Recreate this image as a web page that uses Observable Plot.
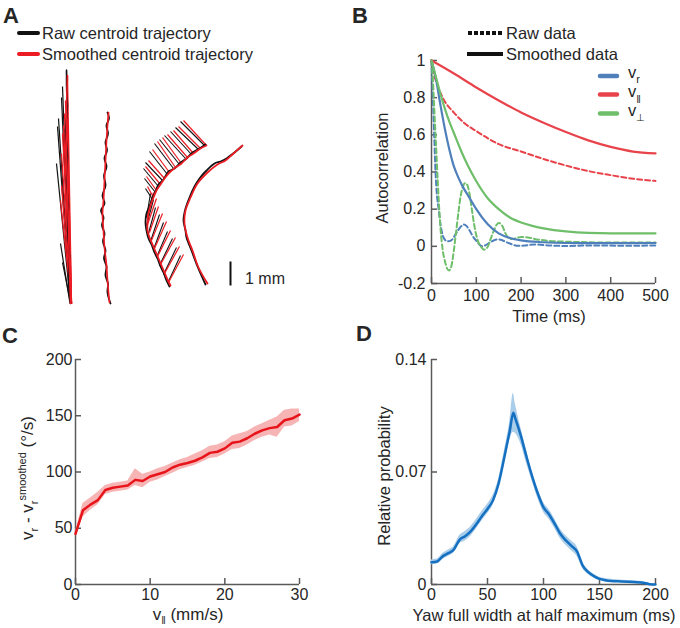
<!DOCTYPE html>
<html><head><meta charset="utf-8">
<script src="https://cdn.jsdelivr.net/npm/d3@7"></script>
<script src="https://cdn.jsdelivr.net/npm/@observablehq/plot@0.6"></script>
<style>
body{margin:0;background:#fff;}
#fig{position:relative;width:680px;height:628px;overflow:hidden;font-family:"Liberation Sans",Arial,Helvetica,sans-serif;}
.panel{position:absolute;}
.panel svg{overflow:visible;}
#overlay{position:absolute;left:0;top:0;pointer-events:none;}
</style></head><body><div id="fig"></div>
<script>
// ---------------- Panel A data (tracking camera pixels; 24 px = 1 mm) ----------------
const traj1Raw = [[70,303],[68,280],[69,255],[67,230],[68,205],[66,180],[67,155],[65,130],[67,105],[66,85],[66,70]];
const traj1Smooth = [[70,303],[69,270],[68,230],[67,190],[66,150],[66,110],[67,75]];
const fan1Raw = [[70,303,66,69],[70,303,62,86],[70,303,61,97],[70,303,58,118],[70,303,57,126],[70,303,56,163],[69,300,60,243],[70,302,62,262],[70,303,64,150]];
const fan1Smooth = [[71,303,67,76],[71,303,65,100],[71,303,64,113],[71,303,62,133],[71,303,61,153],[71,303,61,185],[71,303,66,88],[71,303,63,125],[71,303,60,200]];
const traj2Raw = [[107,112],[108.5,118],[106,125],[107.5,133],[105,142],[106.5,150],[104,158],[106,166],[103.5,175],[105,185],[102,195],[104,203],[100.5,210],[103,217],[101.5,225],[104,233],[102.5,241],[105,250],[103.5,258],[106,266],[105,275],[107.5,283],[107,292],[110,303]];
const traj2Smooth = [[108,112],[107,125],[106,140],[105,160],[104,180],[103,200],[102,213],[103,230],[104,247],[106,265],[107,280],[108,292],[109,302]];
const traj3Raw = [[205,144],[199,148],[192,152],[186,158],[180,162],[174,168],[168,171],[163,179],[158,184],[155,191],[152,197],[149,206],[146,213],[145,222],[146,230],[148,238],[151,244],[154,252],[157,258],[160,266],[163,272],[166,280],[169,286]];
const traj3Smooth = [[206,145],[200,148],[193,153],[187,157],[181,163],[175,167],[169,172],[164,178],[160,184],[156,190],[153,197],[150,205],[148,213],[147,222],[147,230],[149,237],[152,244],[155,251],[158,258],[161,265],[164,272],[167,279],[170,285]];
const hairs3Raw = [[204,145,180,121],[198,149,175,127],[191,154,170,131],[185,158,164,135],[179,164,159,139],[173,168,154,143],[167,174,149,151],[162,180,145,162],[158,186,143,168],[155,192,144,178],[152,199,145,188],
  [167,283,180,255],[163,274,176,247],[159,265,172,238],[156,257,167,231],[153,249,163,222],[150,241,159,214],[148,233,155,207],[146,225,153,199],[146,217,150,193]];
const hairs3Smooth = [[206,145,183,120],[200,148,178,126],[193,153,173,130],[187,157,167,134],[181,163,162,137],[175,167,157,141],[169,172,152,149],[164,178,148,160],[160,184,145,166],[156,190,146,176],[153,197,147,186],
  [168,282,183,254],[164,273,179,246],[160,264,175,237],[157,256,170,230],[154,248,166,221],[151,240,162,213],[149,232,158,206],[147,224,156,198],[147,216,153,192]];
const traj4Raw = [[241,146],[234,152],[226,158],[220,161],[214,163],[206,170],[199,178],[194,186],[189,197],[185,208],[183,220],[185,230],[186,237],[191,250],[197,266],[205,284]];
const traj4Smooth = [[242,145],[233,153],[225,160],[217,164],[207,172],[197,183],[190,197],[185,210],[184,223],[187,237],[192,250],[198,267],[207,283]];
const scaleBar = [[230,261,230,285]]; // 24 camera px = 1 mm

// ---------------- Panel B data (time ms, autocorrelation) ----------------
const xTicksB = [0,100,200,300,400,500];
const yTicksB = [-0.2,0,0.2,0.4,0.6,0.8,1];
const tVrSmooth = [0,10,20,30,40,50,60,70,80,90,100,125,150,175,200,250,300,400,500];
const vrSmooth  = [1,0.9,0.76,0.63,0.52,0.43,0.37,0.32,0.28,0.24,0.2,0.12,0.07,0.045,0.032,0.022,0.018,0.017,0.018];
const tVperpSmooth = [0,10,20,30,40,50,65,80,100,125,150,175,200,225,250,300,350,400,500];
const vperpSmooth  = [1,0.91,0.82,0.74,0.67,0.61,0.52,0.44,0.35,0.26,0.2,0.155,0.128,0.11,0.097,0.08,0.072,0.07,0.07];
const tVparSmooth = [0,50,100,150,200,250,300,350,400,450,500];
const vparSmooth  = [1,0.93,0.855,0.785,0.72,0.665,0.615,0.57,0.535,0.51,0.5];
const tVparRaw = [0,5,10,25,50,75,100,150,200,250,300,350,400,450,500];
const vparRaw  = [1,0.93,0.89,0.8,0.72,0.66,0.62,0.55,0.51,0.47,0.435,0.405,0.383,0.364,0.352];
const tVrRaw = [0,3,6,9,12,16,20,25,30,35,40,46,55,65,72,78,85,92,100,107,113,120,130,140,148,155,165,175,185,195,210,230,260,300,350,400,450,500];
const vrRaw  = [1,0.8,0.6,0.4,0.28,0.2,0.12,0.06,0.035,0.027,0.028,0.036,0.07,0.105,0.118,0.11,0.085,0.055,0.03,0.01,0.0,0.005,0.02,0.033,0.038,0.035,0.025,0.015,0.006,0.003,0.005,0.01,0.005,0.002,0.005,0.004,0.003,0.005];
const tVperpRaw = [0,3,6,10,15,20,25,30,35,39,45,50,55,60,65,70,75,80,85,90,95,100,105,110,117,125,132,140,145,151,158,165,172,180,190,200,215,230,260,300,350,400,450,500];
const vperpRaw  = [1,0.9,0.75,0.55,0.3,0.1,-0.02,-0.08,-0.12,-0.13,-0.1,-0.02,0.08,0.18,0.27,0.32,0.34,0.33,0.28,0.2,0.12,0.06,0.02,0.0,-0.018,-0.005,0.04,0.09,0.115,0.125,0.11,0.07,0.045,0.04,0.045,0.05,0.048,0.04,0.03,0.025,0.022,0.02,0.02,0.02];
const seriesNames = ["vr","vpar","vperp"];
const seriesColors = ["#4f80bb","#e8434b","#6fbe6a"];

// ---------------- Panel C data ----------------
const xTicksC = [0,10,20,30];
const yTicksC = [0,50,100,150,200];
const vParC = [0,1,2,3,4,5,6,7,8,9,10,11,12,13,14,15,16,17,18,19,20,21,22,23,24,25,26,27,28,29,30];
const diffC = [45,66,71,75,84,86,87,88,93,92,96,98,100,104,106.5,108,110,113,117,118,121,126,127,130,134,137,139,140,146,147.5,151];
const diffLoC = [43,60,66,71,80,82,83,84,88,86,91,93,96,99,102,104,106,109,112,113,116,120,121,124,128,131,133,131,140,141,145];
const diffHiC = [47,72,77,82,88,90,91,92,103,98,100,103,105,108,111,113,116,119,123,124,127,132,134,136,140,143,146,149,155,156,156];

// ---------------- Panel D data ----------------
const xTicksD = [0,50,100,150,200];
const yTicksD = [0,0.07,0.14];
const fwhmD = [0,5,10,15,20,25,30,35,40,45,50,55,60,65,70,73,75,80,85,90,95,100,105,110,115,120,125,130,135,140,145,150,155,160,170,180,190,195,200];
const probD = [0.0138,0.0143,0.0175,0.0195,0.0218,0.0278,0.0300,0.0330,0.0375,0.0425,0.0470,0.0525,0.0630,0.0790,0.0960,0.1068,0.1030,0.0920,0.0790,0.0670,0.0565,0.0480,0.0436,0.0378,0.0316,0.0274,0.0240,0.0205,0.0118,0.0077,0.0052,0.0035,0.0027,0.0022,0.0019,0.0015,0.0010,0.0002,0.0000];
const errD = [0.0015,0.0015,0.0018,0.002,0.002,0.0025,0.003,0.003,0.003,0.003,0.003,0.003,0.003,0.004,0.006,0.012,0.009,0.005,0.004,0.003,0.003,0.003,0.003,0.003,0.003,0.003,0.003,0.003,0.002,0.0015,0.0012,0.001,0.001,0.001,0.0008,0.0008,0.0006,0.0004,0.0003];

// ---------------- Rendering ----------------
const FONT = '"Liberation Sans", Arial, Helvetica, sans-serif';
const AX = "#5a5a5a";
const TXT = "#262626";
const RED = "#ec1c24";
const BLK = "#111111";
const fig = document.getElementById("fig");

function place(node, left, top) {
  const d = document.createElement("div");
  d.className = "panel"; d.style.left = left + "px"; d.style.top = top + "px";
  d.appendChild(node); fig.appendChild(d);
}
const P = () => ({x1: d => d[0], y1: d => d[1], x2: d => d[2], y2: d => d[3]});
const XY = {x: d => d[0], y: d => d[1]};

// Panel A
const plotA = Plot.plot({
  width: 340, height: 250, margin: 0,
  x: {domain: [0, 340], range: [0, 340], axis: null},
  y: {domain: [60, 310], range: [0, 250], axis: null},
  style: {background: "transparent"},
  marks: [
    Plot.link(fan1Raw, {...P(), stroke: BLK, strokeWidth: 1.2}),
    Plot.link(fan1Smooth, {...P(), stroke: RED, strokeWidth: 1.3}),
    Plot.line(traj1Raw, {...XY, stroke: BLK, strokeWidth: 1.5}),
    Plot.line(traj1Smooth, {...XY, stroke: RED, strokeWidth: 1.6, curve: "catmull-rom"}),
    Plot.line(traj2Raw, {...XY, stroke: BLK, strokeWidth: 1.8, curve: "catmull-rom"}),
    Plot.line(traj2Smooth, {...XY, stroke: RED, strokeWidth: 1.7, curve: "catmull-rom"}),
    Plot.link(hairs3Raw, {...P(), stroke: BLK, strokeWidth: 1.1}),
    Plot.link(hairs3Smooth, {...P(), stroke: RED, strokeWidth: 1.2}),
    Plot.line(traj3Raw, {...XY, stroke: BLK, strokeWidth: 1.8, curve: "catmull-rom"}),
    Plot.line(traj3Smooth, {...XY, stroke: RED, strokeWidth: 1.8, curve: "catmull-rom"}),
    Plot.line(traj4Raw, {...XY, stroke: BLK, strokeWidth: 1.8, curve: "catmull-rom"}),
    Plot.line(traj4Smooth, {...XY, stroke: RED, strokeWidth: 1.8, curve: "catmull-rom"}),
    Plot.link(scaleBar, {...P(), stroke: BLK, strokeWidth: 2})
  ]
});
place(plotA, 0, 60);

// Panel B
function rows(t, v, name, kind) { return t.map((x, i) => ({t: x, v: v[i], name, kind})); }
const dataB = [
  ...rows(tVrRaw, vrRaw, "vr", "raw"), ...rows(tVparRaw, vparRaw, "vpar", "raw"), ...rows(tVperpRaw, vperpRaw, "vperp", "raw"),
  ...rows(tVrSmooth, vrSmooth, "vr", "smooth"), ...rows(tVparSmooth, vparSmooth, "vpar", "smooth"), ...rows(tVperpSmooth, vperpSmooth, "vperp", "smooth")
];
function axesMarks(W, H, ML, MR, MT, MB, xt, yt, x0, y0) {
  return [
    Plot.ruleX([x0], {stroke: AX, strokeWidth: 1.5}),
    Plot.ruleY([y0], {stroke: AX, strokeWidth: 1.5}),
    Plot.tickY(yt, {y: d => d, stroke: AX, strokeWidth: 1.5, insetRight: W - ML - MR - 6}),
    Plot.tickX(xt, {x: d => d, stroke: AX, strokeWidth: 1.5, insetTop: H - MT - MB - 6})
  ];
}
const B = {W: 340, H: 290, ML: 91, MR: 25, MT: 20, MB: 47};
const plotB = Plot.plot({
  width: B.W, height: B.H, marginLeft: B.ML, marginRight: B.MR, marginTop: B.MT, marginBottom: B.MB,
  style: {fontFamily: FONT, fontSize: "16px", color: TXT, background: "transparent"},
  x: {domain: [0, 500], ticks: xTicksB, tickSize: 0, tickPadding: 6, label: null},
  y: {domain: [-0.2, 1], ticks: yTicksB, tickSize: 0, tickPadding: 6, label: null, tickFormat: d => String(d)},
  color: {domain: seriesNames, range: seriesColors},
  marks: [
    ...axesMarks(B.W, B.H, B.ML, B.MR, B.MT, B.MB, xTicksB, yTicksB, 0, -0.2),
    Plot.line(dataB.filter(d => d.kind === "raw"), {x: "t", y: "v", z: "name", stroke: "name", strokeWidth: 2, strokeDasharray: "5,3", curve: "monotone-x"}),
    Plot.line(dataB.filter(d => d.kind === "smooth"), {x: "t", y: "v", z: "name", stroke: "name", strokeWidth: 2.2, curve: "monotone-x"})
  ]
});
place(plotB, 340, 40);

// Panel C
const C = {W: 340, H: 270, ML: 75, MR: 41, MT: 19, MB: 26};
const dataC = vParC.map((x, i) => ({x, m: diffC[i], lo: diffLoC[i], hi: diffHiC[i]}));
const plotC = Plot.plot({
  width: C.W, height: C.H, marginLeft: C.ML, marginRight: C.MR, marginTop: C.MT, marginBottom: C.MB,
  style: {fontFamily: FONT, fontSize: "16px", color: TXT, background: "transparent"},
  x: {domain: [0, 30], ticks: xTicksC, tickSize: 0, tickPadding: 4, label: null},
  y: {domain: [0, 200], ticks: yTicksC, tickSize: 0, tickPadding: 3, label: null},
  marks: [
    ...axesMarks(C.W, C.H, C.ML, C.MR, C.MT, C.MB, xTicksC, yTicksC, 0, 0),
    Plot.areaY(dataC, {x: "x", y1: "lo", y2: "hi", fill: "#f7b4b4"}),
    Plot.line(dataC, {x: "x", y: "m", stroke: "#e8141b", strokeWidth: 2.5})
  ]
});
place(plotC, 0, 340);

// Panel D
const D = {W: 340, H: 270, ML: 91, MR: 25, MT: 19, MB: 26};
const dataD = fwhmD.map((x, i) => ({x, p: probD[i], lo: Math.max(0, probD[i] - errD[i]), hi: probD[i] + errD[i]}));
const plotD = Plot.plot({
  width: D.W, height: D.H, marginLeft: D.ML, marginRight: D.MR, marginTop: D.MT, marginBottom: D.MB,
  style: {fontFamily: FONT, fontSize: "16px", color: TXT, background: "transparent"},
  x: {domain: [0, 200], ticks: xTicksD, tickSize: 0, tickPadding: 4, label: null},
  y: {domain: [0, 0.14], ticks: yTicksD, tickSize: 0, tickPadding: 5, label: null, tickFormat: d => String(d)},
  marks: [
    ...axesMarks(D.W, D.H, D.ML, D.MR, D.MT, D.MB, xTicksD, yTicksD, 0, 0),
    Plot.areaY(dataD, {x: "x", y1: "lo", y2: "hi", fill: "#aacde9", curve: "monotone-x"}),
    Plot.line(dataD, {x: "x", y: "p", stroke: "#1570c1", strokeWidth: 2.5, curve: "monotone-x"})
  ]
});
place(plotD, 340, 340);

// ---------------- Text overlay (letters, legends, axis titles) ----------------
const ov = d3.select("#fig").append("svg").attr("id", "overlay")
  .attr("width", 680).attr("height", 628)
  .style("font-family", FONT).attr("fill", TXT);

function text(x, y, parts, opt = {}) {
  const t = ov.append("text").attr("x", x).attr("y", y)
    .attr("font-size", opt.size || 16.5).attr("text-anchor", opt.anchor || "start");
  if (opt.bold) t.attr("font-weight", "bold");
  if (opt.rotate) t.attr("transform", `rotate(-90 ${x} ${y})`);
  (Array.isArray(parts) ? parts : [[parts]]).forEach(p => {
    const s = t.append("tspan").text(p[0]);
    if (p[1]) s.attr("font-size", p[1]);
    if (p[2]) s.attr("dy", p[2]);
  });
  return t;
}
function swatch(x1, x2, y, color, w, dash, cap) {
  ov.append("line").attr("x1", x1).attr("x2", x2).attr("y1", y).attr("y2", y)
    .attr("stroke", color).attr("stroke-width", w)
    .attr("stroke-linecap", cap || "round").attr("stroke-dasharray", dash || null);
}

// Panel letters
text(3, 23, "A", {size: 22, bold: true});
text(352, 23, "B", {size: 22, bold: true});
text(2, 343, "C", {size: 22, bold: true});
text(356, 341, "D", {size: 22, bold: true});

// Legend A
swatch(19, 38, 33, BLK, 4);
text(42, 39, "Raw centroid trajectory");
swatch(19, 38, 54, RED, 4);
text(42, 60, "Smoothed centroid trajectory");
text(245, 284, "1 mm", {size: 16});

// Legend B
swatch(468, 503, 33, BLK, 4, "4,2", "butt");
text(506, 39, "Raw data");
swatch(467, 503, 54, BLK, 4, null, "butt");
text(506, 60, "Smoothed data");
swatch(600, 617, 76, seriesColors[0], 4.5);
text(628, 78, [["v"], ["r", 11, 5]], {size: 16.5});
swatch(600, 617, 94.5, seriesColors[1], 4.5);
text(628, 97, [["v"], ["\u2016", 11, 6]], {size: 16.5});
swatch(600, 617, 113.5, seriesColors[2], 4.5);
text(628, 116, [["v"], ["\u22A5", 10, 5]], {size: 16.5});

// Axis titles
text(388, 168, "Autocorrelation", {anchor: "middle", rotate: true});
text(549, 322, "Time (ms)", {anchor: "middle"});
text(33, 478, [["v", 17], ["r", 11, 5], [" - v", 17, -5], ["r", 11, 5], ["smoothed", 11, -12], [" (\u00B0/s)", 17, 7]], {anchor: "middle", rotate: true});
text(188, 620, [["v", 17], ["\u2016", 11, 4], [" (mm/s)", 17, -4]], {anchor: "middle"});
text(390, 476, "Relative probability", {anchor: "middle", rotate: true});
text(544, 621, "Yaw full width at half maximum (ms)", {anchor: "middle"});
</script></body></html>
